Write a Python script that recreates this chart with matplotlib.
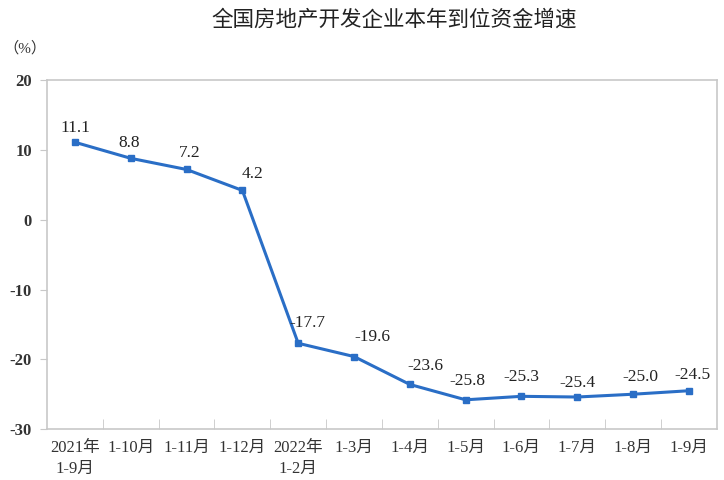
import matplotlib
matplotlib.use('Agg')
from matplotlib import pyplot as plt

# data
categories = ['2021年\n1-9月', '1-10月', '1-11月', '1-12月', '2022年\n1-2月', '1-3月',
              '1-4月', '1-5月', '1-6月', '1-7月', '1-8月', '1-9月']
values = [11.1, 8.8, 7.2, 4.2, -17.7, -19.6, -23.6, -25.8, -25.3, -25.4, -25.0, -24.5]
y_ticks = [20, 10, 0, -10, -20, -30]

fam = ['Liberation Serif', 'Noto Sans CJK SC']
line_color = '#2A6EC6'
grey = '#C8C8C8'

# label nudges (pixels), as placed in the original
label_dx = [0, -2, 3, 10, 9, 18, 16, 2, 0, 0, 7, 4]
label_dy = [6, 7, 8, 8, 12, 12, 10, 11, 11, 6, 9, 8]

fig = plt.figure(figsize=(7.24, 4.8), dpi=100)
ax = fig.add_axes([0.065, 0.106, 0.925, 0.727])

x = list(range(len(values)))
ax.plot(x, values, color=line_color, lw=2.2, marker='s', ms=5, zorder=3)

for i, v in enumerate(values):
    ax.annotate('%.1f' % v, (i, v), xytext=(label_dx[i], label_dy[i]),
                textcoords='offset pixels', ha='center', va='bottom',
                fontsize=12.5, family=fam, color='#222222')

ax.set_xlim(-0.5, len(values) - 0.5)
ax.set_ylim(-30, 20)
ax.set_yticks(y_ticks)
ax.set_yticklabels([str(t) for t in y_ticks], family=fam, fontsize=12, fontweight='bold',
                   color='#333333')

ax.set_xticks(x)
ax.set_xticklabels(categories, family=fam, fontsize=12, color='#333333', linespacing=1.4)
ax.set_xticks([i + 0.5 for i in x[:-1]], minor=True)
ax.tick_params(axis='x', which='major', length=0, pad=8)
ax.tick_params(axis='x', which='minor', direction='in', length=7, color=grey)
ax.tick_params(axis='y', direction='out', length=5, color=grey, pad=6)

for s in ax.spines.values():
    s.set_color(grey)
    s.set_linewidth(1.2)

fig.text(0.545, 0.957, '全国房地产开发企业本年到位资金增速', ha='center', va='center',
         fontsize=15.5, family=fam, fontweight='medium', color='#222222')
fig.text(0.005, 0.9, '（%）', ha='left', va='center', fontsize=11, family=fam, color='#333333')

fig.savefig('out.png', dpi=100)
